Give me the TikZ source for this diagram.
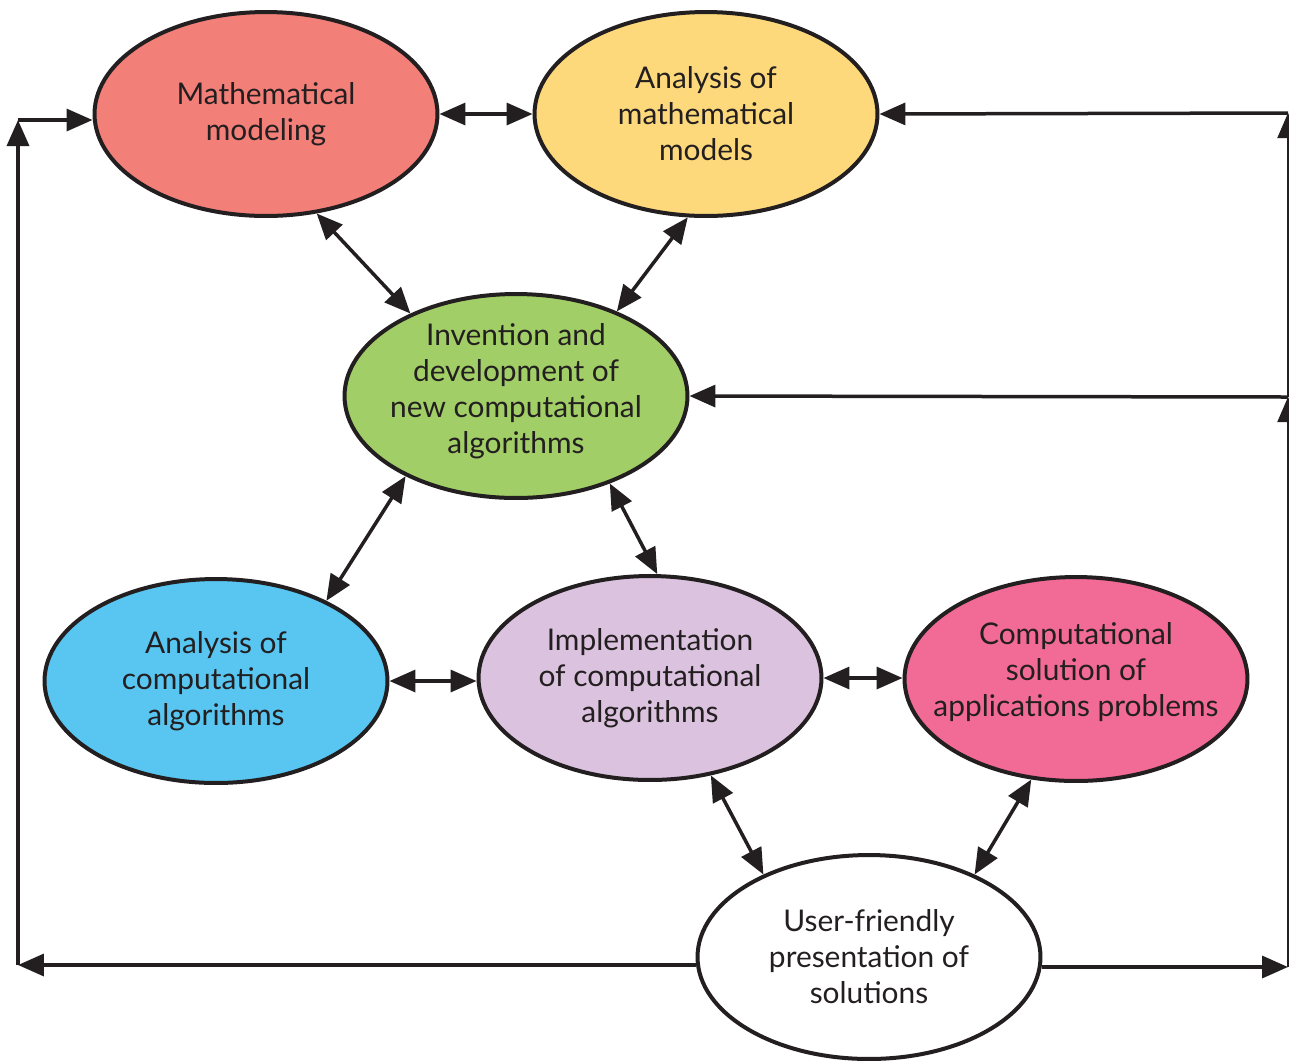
\documentclass[tikz,border=0pt]{standalone}
\usepackage{fontspec}
\setmainfont{Lato}
\usepackage{tikz}
\usetikzlibrary{shapes.geometric,arrows.meta}
\definecolor{ink}{HTML}{231F20}
\definecolor{modred}{HTML}{F37F79}
\definecolor{anayellow}{HTML}{FDD97C}
\definecolor{invgreen}{HTML}{A1CE66}
\definecolor{algblue}{HTML}{58C6F1}
\definecolor{implilac}{HTML}{DBC2DE}
\definecolor{solpink}{HTML}{F26A96}
\begin{document}
\begin{tikzpicture}[x=0.02cm, y=-0.02cm,
			% Define the styles for the bubbles, texts and arrows
			bubble/.style={ellipse, draw=ink, line width=0.08cm, minimum width=6.86cm, minimum height=4.08cm, inner sep=0pt},
			txt/.style={align=center, text=ink, inner sep=0pt, font=\fontsize{17}{20.5}\selectfont},
			link/.style={{Triangle[length=0.52cm,width=0.44cm]}-{Triangle[length=0.52cm,width=0.44cm]}, draw=ink, line width=0.07cm},
			flow/.style={-{Triangle[length=0.52cm,width=0.44cm]}, draw=ink, line width=0.07cm},
			thinflow/.style={-{Triangle[length=0.5cm,width=0.42cm]}, draw=ink, line width=0.04cm}
			]
			\useasboundingbox (0,0) rectangle (1289,1063);

			\node (mm) at (266,114) [bubble, fill=modred] {};
			\node (amm) at (706,114) [bubble, fill=anayellow] {};
			\node (inv) at (516,396) [bubble, fill=invgreen] {};
			\node (aca) at (216,681) [bubble, fill=algblue] {};
			\node (impl) at (650,678) [bubble, fill=implilac] {};
			\node (cs) at (1076,679) [bubble, fill=solpink] {};
			\node (uf) at (869,957) [bubble, fill=white] {};

			\node (mm-t) at (mm) [txt] {Mathematical\\modeling};
			\node (amm-t) at (amm) [txt] {Analysis of\\mathematical\\models};
			\node (inv-t) at ([yshift=0.1cm]inv.center) [txt] {Invention and\\development of\\new computational\\algorithms};
			\node (aca-t) at (aca) [txt] {Analysis of\\computational\\algorithms};
			\node (impl-t) at (impl) [txt] {Implementation\\of computational\\algorithms};
			\node (cs-t) at ([yshift=0.14cm]cs.center) [txt] {Computational\\solution of\\applications problems};
			\node (uf-t) at (uf) [txt] {User-friendly\\presentation of\\solutions};

			\coordinate (tl) at (18,120);
			\coordinate (bl) at (18,965);
			\coordinate (br) at (1288,967);
			\coordinate (rm) at (1288,397);
			\coordinate (tr) at (1288,113);

			\draw[link] (mm.east) -- (amm.west);
			\draw[link] (mm.-63) -- (inv.142);
			\draw[link] (amm.-100) -- (inv.40);
			\draw[link] (inv.216) -- (aca.36);
			\draw[link] (inv.-43) -- (impl.86);
			\draw[link] (aca.east) -- (aca.east -| impl.west);
			\draw[link] (impl.east) -- (impl.east -| cs.west);
			\draw[link] (impl.-58) -- (uf.142);
			\draw[link] (cs.-114) -- (uf.38);

			\draw[flow] (bl -| uf.west) -- (bl);
			\draw[flow] (bl) -- (tl);
			\draw[flow] (tl) -- (tl -| mm.west);

			\draw[flow] (br -| uf.east) -- (br);
			\draw[thinflow] (br) -- (rm);
			\draw[thinflow] (rm) -- (tr);
			\draw[flow] (rm) -- (inv.east);
			\draw[flow] (tr) -- (amm.east);

		\end{tikzpicture}
\end{document}
